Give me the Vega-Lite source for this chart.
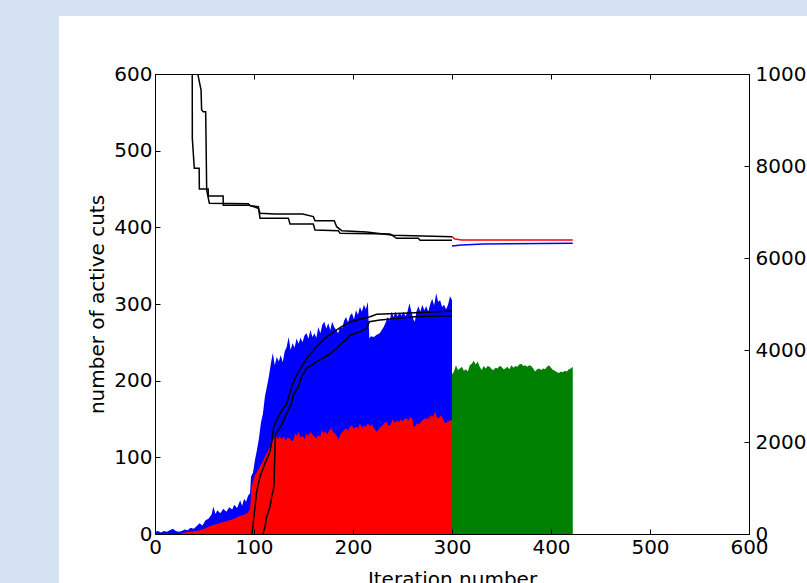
{
"$schema": "https://vega.github.io/schema/vega-lite/v6.json",
"width": 594, "height": 460,
"autosize": {"type": "none"},
"padding": {"left": 155, "top": 74, "right": 58, "bottom": 49},
"background": "#d4e2f4",
"config": {
  "view": {"stroke": null},
  "font": "DejaVu Sans",
  "axis": {"labelFont": "DejaVu Sans", "labelFontSize": 20, "labelColor": "#000", "titleFont": "DejaVu Sans", "titleFontSize": 20, "titleFontWeight": "normal", "titleColor": "#000", "domainColor": "#000", "domainWidth": 1, "tickColor": "#000", "tickWidth": 1, "tickSize": -5, "labelPadding": 8, "grid": false, "labelFlush": false, "labelOverlap": false}
},
"datasets": {
"panel": [{"name": "panel"}],
"cuts": [
{"it":0,"n":3,"k":"t"},{"it":3,"n":4,"k":"t"},{"it":6,"n":2,"k":"t"},{"it":9,"n":4,"k":"t"},{"it":12,"n":3,"k":"t"},{"it":15,"n":5,"k":"t"},{"it":18,"n":7,"k":"t"},{"it":21,"n":4,"k":"t"},{"it":24,"n":3,"k":"t"},{"it":27,"n":4,"k":"t"},{"it":30,"n":6,"k":"t"},{"it":33,"n":5,"k":"t"},{"it":36,"n":8,"k":"t"},{"it":39,"n":7,"k":"t"},{"it":42,"n":10,"k":"t"},{"it":45,"n":14,"k":"t"},{"it":48,"n":11,"k":"t"},{"it":51,"n":18,"k":"t"},{"it":54,"n":20,"k":"t"},{"it":57,"n":25,"k":"t"},{"it":59,"n":36,"k":"t"},{"it":61,"n":26,"k":"t"},{"it":63,"n":31,"k":"t"},{"it":66,"n":27,"k":"t"},{"it":69,"n":33,"k":"t"},{"it":72,"n":29,"k":"t"},{"it":75,"n":35,"k":"t"},{"it":78,"n":32,"k":"t"},{"it":80,"n":38,"k":"t"},{"it":83,"n":34,"k":"t"},{"it":86,"n":44,"k":"t"},{"it":88,"n":37,"k":"t"},{"it":90,"n":46,"k":"t"},{"it":92,"n":42,"k":"t"},{"it":94,"n":50,"k":"t"},{"it":96,"n":53,"k":"t"},{"it":97,"n":75,"k":"t"},{"it":99,"n":80,"k":"t"},{"it":101,"n":97,"k":"t"},{"it":103,"n":110,"k":"t"},{"it":105,"n":125,"k":"t"},{"it":107,"n":145,"k":"t"},{"it":109,"n":157,"k":"t"},{"it":111,"n":179,"k":"t"},{"it":113,"n":192,"k":"t"},{"it":115,"n":205,"k":"t"},{"it":117,"n":222,"k":"t"},{"it":119,"n":236,"k":"t"},{"it":121,"n":220,"k":"t"},{"it":123,"n":231,"k":"t"},{"it":125,"n":225,"k":"t"},{"it":127,"n":233,"k":"t"},{"it":129,"n":224,"k":"t"},{"it":131,"n":238,"k":"t"},{"it":133,"n":244,"k":"t"},{"it":135,"n":257,"k":"t"},{"it":137,"n":240,"k":"t"},{"it":139,"n":249,"k":"t"},{"it":141,"n":243,"k":"t"},{"it":143,"n":255,"k":"t"},{"it":145,"n":248,"k":"t"},{"it":147,"n":256,"k":"t"},{"it":149,"n":250,"k":"t"},{"it":151,"n":259,"k":"t"},{"it":153,"n":262,"k":"t"},{"it":155,"n":255,"k":"t"},{"it":157,"n":266,"k":"t"},{"it":159,"n":257,"k":"t"},{"it":161,"n":262,"k":"t"},{"it":163,"n":256,"k":"t"},{"it":165,"n":270,"k":"t"},{"it":167,"n":262,"k":"t"},{"it":169,"n":273,"k":"t"},{"it":171,"n":277,"k":"t"},{"it":173,"n":268,"k":"t"},{"it":175,"n":275,"k":"t"},{"it":177,"n":266,"k":"t"},{"it":179,"n":277,"k":"t"},{"it":181,"n":270,"k":"t"},{"it":183,"n":266,"k":"t"},{"it":185,"n":262,"k":"t"},{"it":187,"n":271,"k":"t"},{"it":189,"n":268,"k":"t"},{"it":191,"n":278,"k":"t"},{"it":193,"n":283,"k":"t"},{"it":195,"n":276,"k":"t"},{"it":197,"n":285,"k":"t"},{"it":199,"n":288,"k":"t"},{"it":201,"n":280,"k":"t"},{"it":203,"n":292,"k":"t"},{"it":205,"n":286,"k":"t"},{"it":207,"n":296,"k":"t"},{"it":209,"n":290,"k":"t"},{"it":211,"n":299,"k":"t"},{"it":213,"n":293,"k":"t"},{"it":215,"n":303,"k":"t"},{"it":216.5,"n":255,"k":"t"},{"it":218,"n":258,"k":"t"},{"it":221,"n":257,"k":"t"},{"it":224,"n":260,"k":"t"},{"it":227,"n":262,"k":"t"},{"it":229,"n":266,"k":"t"},{"it":231,"n":270,"k":"t"},{"it":233,"n":276,"k":"t"},{"it":235,"n":283,"k":"t"},{"it":237,"n":278,"k":"t"},{"it":239,"n":290,"k":"t"},{"it":241,"n":283,"k":"t"},{"it":243,"n":290,"k":"t"},{"it":245,"n":284,"k":"t"},{"it":247,"n":289,"k":"t"},{"it":249,"n":285,"k":"t"},{"it":251,"n":290,"k":"t"},{"it":253,"n":284,"k":"t"},{"it":255,"n":290,"k":"t"},{"it":257,"n":301,"k":"t"},{"it":259,"n":290,"k":"t"},{"it":261,"n":280,"k":"t"},{"it":262.5,"n":277,"k":"t"},{"it":264,"n":290,"k":"t"},{"it":266,"n":297,"k":"t"},{"it":268,"n":290,"k":"t"},{"it":270,"n":299,"k":"t"},{"it":272,"n":292,"k":"t"},{"it":274,"n":297,"k":"t"},{"it":276,"n":290,"k":"t"},{"it":278,"n":300,"k":"t"},{"it":280,"n":307,"k":"t"},{"it":282,"n":298,"k":"t"},{"it":284,"n":314,"k":"t"},{"it":286,"n":303,"k":"t"},{"it":288,"n":305,"k":"t"},{"it":290,"n":296,"k":"t"},{"it":292,"n":299,"k":"t"},{"it":294,"n":293,"k":"t"},{"it":296,"n":299,"k":"t"},{"it":298,"n":310,"k":"t"},{"it":300,"n":305,"k":"t"},
{"it":0,"n":0,"k":"r"},{"it":25,"n":0,"k":"r"},{"it":30,"n":2,"k":"r"},{"it":36,"n":3,"k":"r"},{"it":42,"n":4,"k":"r"},{"it":45,"n":5,"k":"r"},{"it":50,"n":7,"k":"r"},{"it":55,"n":10,"k":"r"},{"it":60,"n":12,"k":"r"},{"it":65,"n":14,"k":"r"},{"it":70,"n":16,"k":"r"},{"it":75,"n":18,"k":"r"},{"it":80,"n":20,"k":"r"},{"it":85,"n":23,"k":"r"},{"it":90,"n":25,"k":"r"},{"it":93,"n":27,"k":"r"},{"it":96,"n":32,"k":"r"},{"it":97.5,"n":62,"k":"r"},{"it":99,"n":68,"k":"r"},{"it":101,"n":77,"k":"r"},{"it":104,"n":83,"k":"r"},{"it":106,"n":88,"k":"r"},{"it":109,"n":95,"k":"r"},{"it":111,"n":101,"k":"r"},{"it":114,"n":108,"k":"r"},{"it":116,"n":114,"k":"r"},{"it":118,"n":118,"k":"r"},{"it":120,"n":125,"k":"r"},{"it":122,"n":128,"k":"r"},{"it":124,"n":124,"k":"r"},{"it":126,"n":127,"k":"r"},{"it":128,"n":124,"k":"r"},{"it":130,"n":127,"k":"r"},{"it":132,"n":122,"k":"r"},{"it":134,"n":126,"k":"r"},{"it":136,"n":125,"k":"r"},{"it":138,"n":121,"k":"r"},{"it":140,"n":123,"k":"r"},{"it":141.5,"n":131,"k":"r"},{"it":143,"n":128,"k":"r"},{"it":145,"n":133,"k":"r"},{"it":147,"n":126,"k":"r"},{"it":149,"n":128,"k":"r"},{"it":151,"n":124,"k":"r"},{"it":153,"n":131,"k":"r"},{"it":155,"n":128,"k":"r"},{"it":157,"n":133,"k":"r"},{"it":159,"n":130,"k":"r"},{"it":161,"n":127,"k":"r"},{"it":163,"n":125,"k":"r"},{"it":165,"n":129,"k":"r"},{"it":167,"n":127,"k":"r"},{"it":168.5,"n":136,"k":"r"},{"it":170,"n":131,"k":"r"},{"it":172,"n":134,"k":"r"},{"it":174,"n":130,"k":"r"},{"it":176,"n":135,"k":"r"},{"it":178,"n":138,"k":"r"},{"it":180,"n":133,"k":"r"},{"it":182,"n":131,"k":"r"},{"it":184,"n":127,"k":"r"},{"it":185.5,"n":123,"k":"r"},{"it":187,"n":129,"k":"r"},{"it":189,"n":133,"k":"r"},{"it":191,"n":135,"k":"r"},{"it":193,"n":138,"k":"r"},{"it":195,"n":134,"k":"r"},{"it":197,"n":140,"k":"r"},{"it":199,"n":142,"k":"r"},{"it":201,"n":137,"k":"r"},{"it":203,"n":140,"k":"r"},{"it":205,"n":138,"k":"r"},{"it":207,"n":144,"k":"r"},{"it":209,"n":139,"k":"r"},{"it":211,"n":141,"k":"r"},{"it":213,"n":140,"k":"r"},{"it":215,"n":144,"k":"r"},{"it":217,"n":141,"k":"r"},{"it":219,"n":143,"k":"r"},{"it":221,"n":139,"k":"r"},{"it":223,"n":135,"k":"r"},{"it":224.5,"n":133,"k":"r"},{"it":226,"n":137,"k":"r"},{"it":228,"n":140,"k":"r"},{"it":230,"n":142,"k":"r"},{"it":232,"n":145,"k":"r"},{"it":234,"n":146,"k":"r"},{"it":236,"n":141,"k":"r"},{"it":238,"n":143,"k":"r"},{"it":240,"n":149,"k":"r"},{"it":242,"n":145,"k":"r"},{"it":244,"n":148,"k":"r"},{"it":246,"n":146,"k":"r"},{"it":248,"n":149,"k":"r"},{"it":250,"n":147,"k":"r"},{"it":252,"n":150,"k":"r"},{"it":254,"n":151,"k":"r"},{"it":256,"n":148,"k":"r"},{"it":258,"n":153,"k":"r"},{"it":260,"n":150,"k":"r"},{"it":261,"n":140,"k":"r"},{"it":263,"n":141,"k":"r"},{"it":265,"n":144,"k":"r"},{"it":267,"n":143,"k":"r"},{"it":269,"n":147,"k":"r"},{"it":271,"n":149,"k":"r"},{"it":273,"n":151,"k":"r"},{"it":275,"n":150,"k":"r"},{"it":277,"n":152,"k":"r"},{"it":279,"n":155,"k":"r"},{"it":281,"n":153,"k":"r"},{"it":283,"n":160,"k":"r"},{"it":285,"n":151,"k":"r"},{"it":287,"n":152,"k":"r"},{"it":289,"n":155,"k":"r"},{"it":291,"n":150,"k":"r"},{"it":293,"n":144,"k":"r"},{"it":295,"n":146,"k":"r"},{"it":297,"n":147,"k":"r"},{"it":300,"n":149,"k":"r"},
{"it":300,"n":208,"k":"g"},{"it":302,"n":212,"k":"g"},{"it":304,"n":220,"k":"g"},{"it":306,"n":214,"k":"g"},{"it":308,"n":216,"k":"g"},{"it":310,"n":218,"k":"g"},{"it":312,"n":213,"k":"g"},{"it":314,"n":215,"k":"g"},{"it":316,"n":212,"k":"g"},{"it":318,"n":220,"k":"g"},{"it":320,"n":222,"k":"g"},{"it":322,"n":226,"k":"g"},{"it":324,"n":221,"k":"g"},{"it":326,"n":225,"k":"g"},{"it":328,"n":218,"k":"g"},{"it":330,"n":214,"k":"g"},{"it":332,"n":219,"k":"g"},{"it":334,"n":216,"k":"g"},{"it":336,"n":219,"k":"g"},{"it":338,"n":218,"k":"g"},{"it":340,"n":215,"k":"g"},{"it":342,"n":214,"k":"g"},{"it":344,"n":217,"k":"g"},{"it":346,"n":216,"k":"g"},{"it":348,"n":219,"k":"g"},{"it":350,"n":218,"k":"g"},{"it":352,"n":215,"k":"g"},{"it":354,"n":216,"k":"g"},{"it":356,"n":218,"k":"g"},{"it":358,"n":215,"k":"g"},{"it":360,"n":220,"k":"g"},{"it":362,"n":217,"k":"g"},{"it":364,"n":219,"k":"g"},{"it":366,"n":218,"k":"g"},{"it":368,"n":221,"k":"g"},{"it":370,"n":222,"k":"g"},{"it":372,"n":219,"k":"g"},{"it":374,"n":220,"k":"g"},{"it":376,"n":218,"k":"g"},{"it":378,"n":220,"k":"g"},{"it":380,"n":219,"k":"g"},{"it":382,"n":216,"k":"g"},{"it":384,"n":212,"k":"g"},{"it":386,"n":215,"k":"g"},{"it":388,"n":216,"k":"g"},{"it":390,"n":214,"k":"g"},{"it":392,"n":216,"k":"g"},{"it":394,"n":215,"k":"g"},{"it":396,"n":218,"k":"g"},{"it":398,"n":220,"k":"g"},{"it":400,"n":217,"k":"g"},{"it":402,"n":214,"k":"g"},{"it":404,"n":213,"k":"g"},{"it":406,"n":211,"k":"g"},{"it":408,"n":210,"k":"g"},{"it":410,"n":212,"k":"g"},{"it":412,"n":211,"k":"g"},{"it":414,"n":213,"k":"g"},{"it":416,"n":212,"k":"g"},{"it":418,"n":215,"k":"g"},{"it":420,"n":216,"k":"g"},{"it":422,"n":218,"k":"g"}
],
"bounds": [
{"it":37.5,"v":12000,"s":"A"},{"it":37.7,"v":8601,"s":"A"},{"it":39.7,"v":7949,"s":"A"},{"it":44.6,"v":7949,"s":"A"},{"it":44.8,"v":7500,"s":"A"},{"it":53.7,"v":7500,"s":"A"},{"it":53.9,"v":7348,"s":"A"},{"it":68.8,"v":7348,"s":"A"},{"it":69.0,"v":7145,"s":"A"},{"it":95.3,"v":7145,"s":"A"},{"it":104.4,"v":7080,"s":"A"},{"it":106.1,"v":6971,"s":"A"},{"it":121.2,"v":6957,"s":"A"},{"it":149.2,"v":6957,"s":"A"},{"it":159.9,"v":6899,"s":"A"},{"it":161.6,"v":6812,"s":"A"},{"it":181.1,"v":6812,"s":"A"},{"it":183.5,"v":6681,"s":"A"},{"it":188.6,"v":6594,"s":"A"},{"it":213.8,"v":6565,"s":"A"},{"it":240.7,"v":6493,"s":"A"},{"it":300,"v":6464,"s":"A"},
{"it":42.8,"v":11000,"s":"B"},{"it":43.1,"v":10014,"s":"B"},{"it":46.5,"v":9652,"s":"B"},{"it":47.1,"v":9217,"s":"B"},{"it":48.8,"v":9181,"s":"B"},{"it":51.2,"v":9181,"s":"B"},{"it":52.2,"v":7478,"s":"B"},{"it":54.9,"v":7188,"s":"B"},{"it":94.3,"v":7181,"s":"B"},{"it":96.0,"v":7138,"s":"B"},{"it":104.4,"v":7116,"s":"B"},{"it":106.1,"v":6862,"s":"B"},{"it":134.7,"v":6862,"s":"B"},{"it":136.4,"v":6739,"s":"B"},{"it":159.9,"v":6739,"s":"B"},{"it":161.6,"v":6609,"s":"B"},{"it":185.2,"v":6594,"s":"B"},{"it":186.9,"v":6536,"s":"B"},{"it":237.4,"v":6522,"s":"B"},{"it":244.1,"v":6428,"s":"B"},{"it":266.0,"v":6428,"s":"B"},{"it":267.7,"v":6384,"s":"B"},{"it":300,"v":6384,"s":"B"},
{"it":98.0,"v":0,"s":"C"},{"it":101.0,"v":593,"s":"C"},{"it":102.7,"v":920,"s":"C"},{"it":106.1,"v":1246,"s":"C"},{"it":111.1,"v":1536,"s":"C"},{"it":116.2,"v":1790,"s":"C"},{"it":118.5,"v":2100,"s":"C"},{"it":120.0,"v":2350,"s":"C"},{"it":126.3,"v":2623,"s":"C"},{"it":133.0,"v":2841,"s":"C"},{"it":138.1,"v":3203,"s":"C"},{"it":141.4,"v":3384,"s":"C"},{"it":148.2,"v":3637,"s":"C"},{"it":153.2,"v":3819,"s":"C"},{"it":163.3,"v":4072,"s":"C"},{"it":171.7,"v":4254,"s":"C"},{"it":178.5,"v":4363,"s":"C"},{"it":183.5,"v":4435,"s":"C"},{"it":188.6,"v":4507,"s":"C"},{"it":197.0,"v":4610,"s":"C"},{"it":207.1,"v":4670,"s":"C"},{"it":217.2,"v":4724,"s":"C"},{"it":223.9,"v":4776,"s":"C"},{"it":237.4,"v":4790,"s":"C"},{"it":262.6,"v":4811,"s":"C"},{"it":300,"v":4848,"s":"C"},
{"it":109.0,"v":0,"s":"D"},{"it":111.1,"v":159,"s":"D"},{"it":112.8,"v":377,"s":"D"},{"it":116.2,"v":594,"s":"D"},{"it":117.9,"v":812,"s":"D"},{"it":120.2,"v":1029,"s":"D"},{"it":121.5,"v":2150,"s":"D"},{"it":123.5,"v":2225,"s":"D"},{"it":127.9,"v":2370,"s":"D"},{"it":133.0,"v":2623,"s":"D"},{"it":138.1,"v":2841,"s":"D"},{"it":139.7,"v":3022,"s":"D"},{"it":144.8,"v":3203,"s":"D"},{"it":148.2,"v":3420,"s":"D"},{"it":153.2,"v":3602,"s":"D"},{"it":163.3,"v":3746,"s":"D"},{"it":175.1,"v":3891,"s":"D"},{"it":183.5,"v":4036,"s":"D"},{"it":187.0,"v":4120,"s":"D"},{"it":193.6,"v":4230,"s":"D"},{"it":197.0,"v":4326,"s":"D"},{"it":202.0,"v":4360,"s":"D"},{"it":207.1,"v":4400,"s":"D"},{"it":213.8,"v":4471,"s":"D"},{"it":216.5,"v":4616,"s":"D"},{"it":227.3,"v":4652,"s":"D"},{"it":262.6,"v":4724,"s":"D"},{"it":300,"v":4746,"s":"D"},
{"it":300,"v":6464,"s":"ub"},{"it":303,"v":6413,"s":"ub"},{"it":309.8,"v":6391,"s":"ub"},{"it":422,"v":6391,"s":"ub"},
{"it":300,"v":6261,"s":"lb"},{"it":309.8,"v":6283,"s":"lb"},{"it":331.6,"v":6304,"s":"lb"},{"it":422,"v":6319,"s":"lb"}
]
},
"layer": [
  {
    "data": {"name": "panel"},
    "mark": {"type": "rect", "fill": "#ffffff", "clip": false, "zindex": 0},
    "encoding": {
      "x": {"datum": -97, "type": "quantitative", "scale": {"domain": [0, 600], "nice": false, "zero": false}, "axis": null},
      "x2": {"datum": 700},
      "y": {"datum": 1.126, "type": "quantitative", "scale": {"domain": [0, 1], "nice": false}, "axis": null},
      "y2": {"datum": -0.2}
    }
  },
  {
    "data": {"name": "cuts"},
    "layer": [
      {"transform": [{"filter": "datum.k === 't'"}], "mark": {"type": "area", "color": "#0000ff", "interpolate": "linear"}},
      {"transform": [{"filter": "datum.k === 'r'"}], "mark": {"type": "area", "color": "#ff0000", "interpolate": "linear"}},
      {"transform": [{"filter": "datum.k === 'g'"}], "mark": {"type": "area", "color": "#008000", "interpolate": "linear"}}
    ],
    "encoding": {
      "x": {"field": "it", "type": "quantitative", "scale": {"domain": [0, 600], "nice": false, "zero": false},
            "axis": {"orient": "bottom", "zindex": 2, "values": [0,100,200,300,400,500,600], "title": "Iteration number", "titlePadding": 12}},
      "y": {"field": "n", "type": "quantitative", "stack": null, "scale": {"domain": [0, 600], "nice": false},
            "axis": {"orient": "left", "zindex": 2, "values": [0,100,200,300,400,500,600], "title": "number of active cuts", "titlePadding": 6}}
    }
  },
  {
    "data": {"name": "bounds"},
    "mark": {"type": "line", "strokeWidth": 1.5, "clip": true},
    "encoding": {
      "x": {"field": "it", "type": "quantitative", "scale": {"domain": [0, 600], "nice": false, "zero": false},
            "axis": {"orient": "top", "zindex": 2, "values": [0,100,200,300,400,500,600], "labels": false, "title": null}},
      "y": {"field": "v", "type": "quantitative", "scale": {"domain": [0, 10000], "nice": false},
            "axis": {"orient": "right", "zindex": 2, "values": [0,2000,4000,6000,8000,10000], "format": "d", "title": null, "labelPadding": 11}},
      "color": {"field": "s", "type": "nominal", "scale": {"domain": ["A","B","C","D","ub","lb"], "range": ["#000000","#000000","#000000","#000000","#ff0000","#0000ff"]}, "legend": null}
    }
  }
],
"resolve": {"scale": {"y": "independent"}, "axis": {"x": "independent", "y": "independent"}}
}
